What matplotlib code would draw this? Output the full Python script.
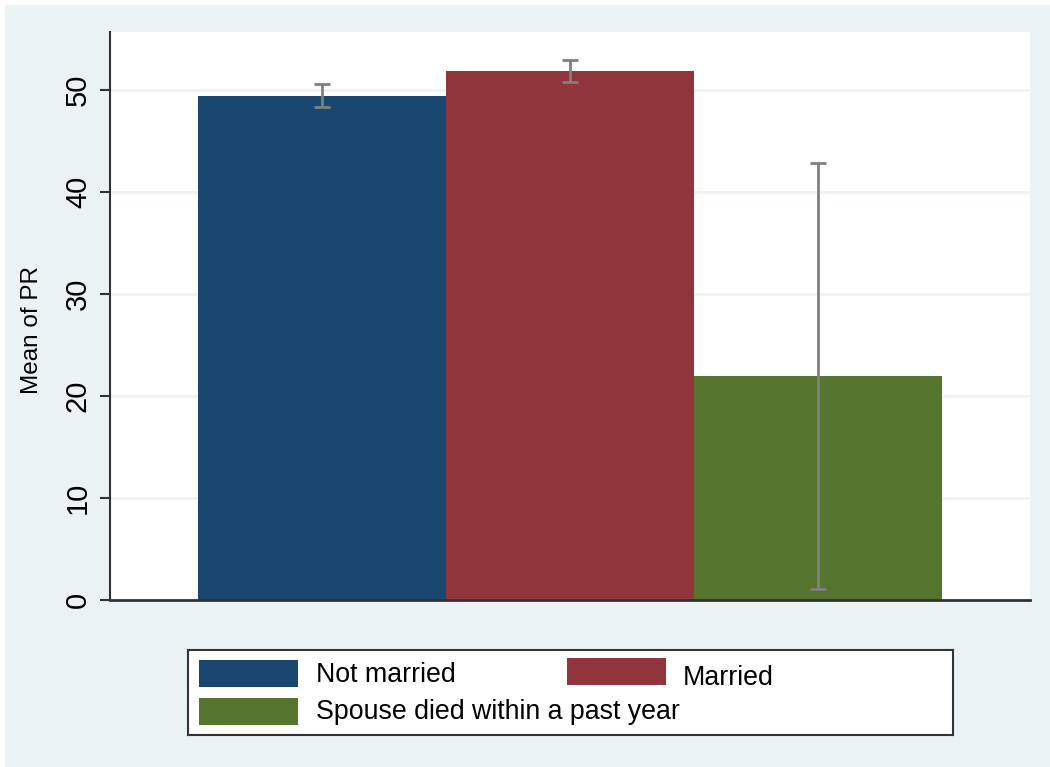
import numpy as np
import matplotlib.pyplot as plt
from matplotlib.patches import Rectangle

# data
groups = ['Not married', 'Married', 'Spouse died within a past year']
means = [49.4, 51.9, 22.0]
ci_low = [48.3, 50.8, 1.1]
ci_high = [50.6, 53.0, 42.9]
colors = ['#1a476f', '#90353b', '#55752f']
yticks = [0, 10, 20, 30, 40, 50]

bg = '#eaf2f3'
plt.rcParams['font.family'] = ['Liberation Sans', 'DejaVu Sans']

fig = plt.figure(figsize=(10.5, 7.67), dpi=100, facecolor='white')
# stata style graph region (small white margin on top/left)
fig.patches.append(Rectangle((5 / 1050, 0), 1, 1 - 5 / 767, transform=fig.transFigure,
                             facecolor=bg, edgecolor='none', zorder=-10))

ax = fig.add_axes([110 / 1050, 167 / 767, 920 / 1050, 568 / 767])
ax.set_facecolor('white')

x = np.arange(len(groups))
ax.bar(x, means, width=1.0, color=colors, edgecolor='none', zorder=2)
yerr = [np.array(means) - np.array(ci_low), np.array(ci_high) - np.array(means)]
ax.errorbar(x, means, yerr=yerr, fmt='none', ecolor='#808080', elinewidth=2,
            capsize=6, capthick=2, zorder=3)

ax.set_xlim(-0.855, 2.855)
ax.set_ylim(0, 55.7)
ax.set_yticks(yticks)
ax.set_xticks([])
ax.grid(axis='y', color=bg, linewidth=1.8, zorder=0)
ax.set_axisbelow(True)
for s in ['top', 'right']:
    ax.spines[s].set_visible(False)
ax.spines['left'].set_color('#333333')
ax.spines['bottom'].set_color('#333333')
ax.spines['left'].set_linewidth(1.5)
ax.spines['bottom'].set_linewidth(2)
ax.tick_params(axis='y', length=7, width=1.5, color='#333333', pad=6, labelsize=21)
for lab in ax.get_yticklabels():
    lab.set_rotation(90)
    lab.set_va('center')
ax.set_ylabel('Mean of PR', fontsize=17.5)
ax.yaxis.set_label_coords(-0.073, 0.475)

# legend drawn like stata: 2 columns with the long label overlapping
lg = fig.add_axes([188 / 1050, 32 / 767, 765 / 1050, 85 / 767])
lg.set_xlim(0, 765)
lg.set_ylim(85, 0)
lg.set_xticks([])
lg.set_yticks([])
for s in lg.spines.values():
    s.set_color('#333333')
    s.set_linewidth(1.5)
key_pos = [(11, 10), (379, 8), (11, 48)]
text_pos = [(128, 25), (495, 28), (128, 62)]
for g, c, (kx, ky), (tx, ty) in zip(groups, colors, key_pos, text_pos):
    lg.add_patch(Rectangle((kx, ky), 99, 27, facecolor=c, edgecolor='none'))
    lg.text(tx, ty, g, fontsize=19.3, va='center', ha='left', color='black')

fig.savefig('out.png', dpi=100, facecolor='white')
